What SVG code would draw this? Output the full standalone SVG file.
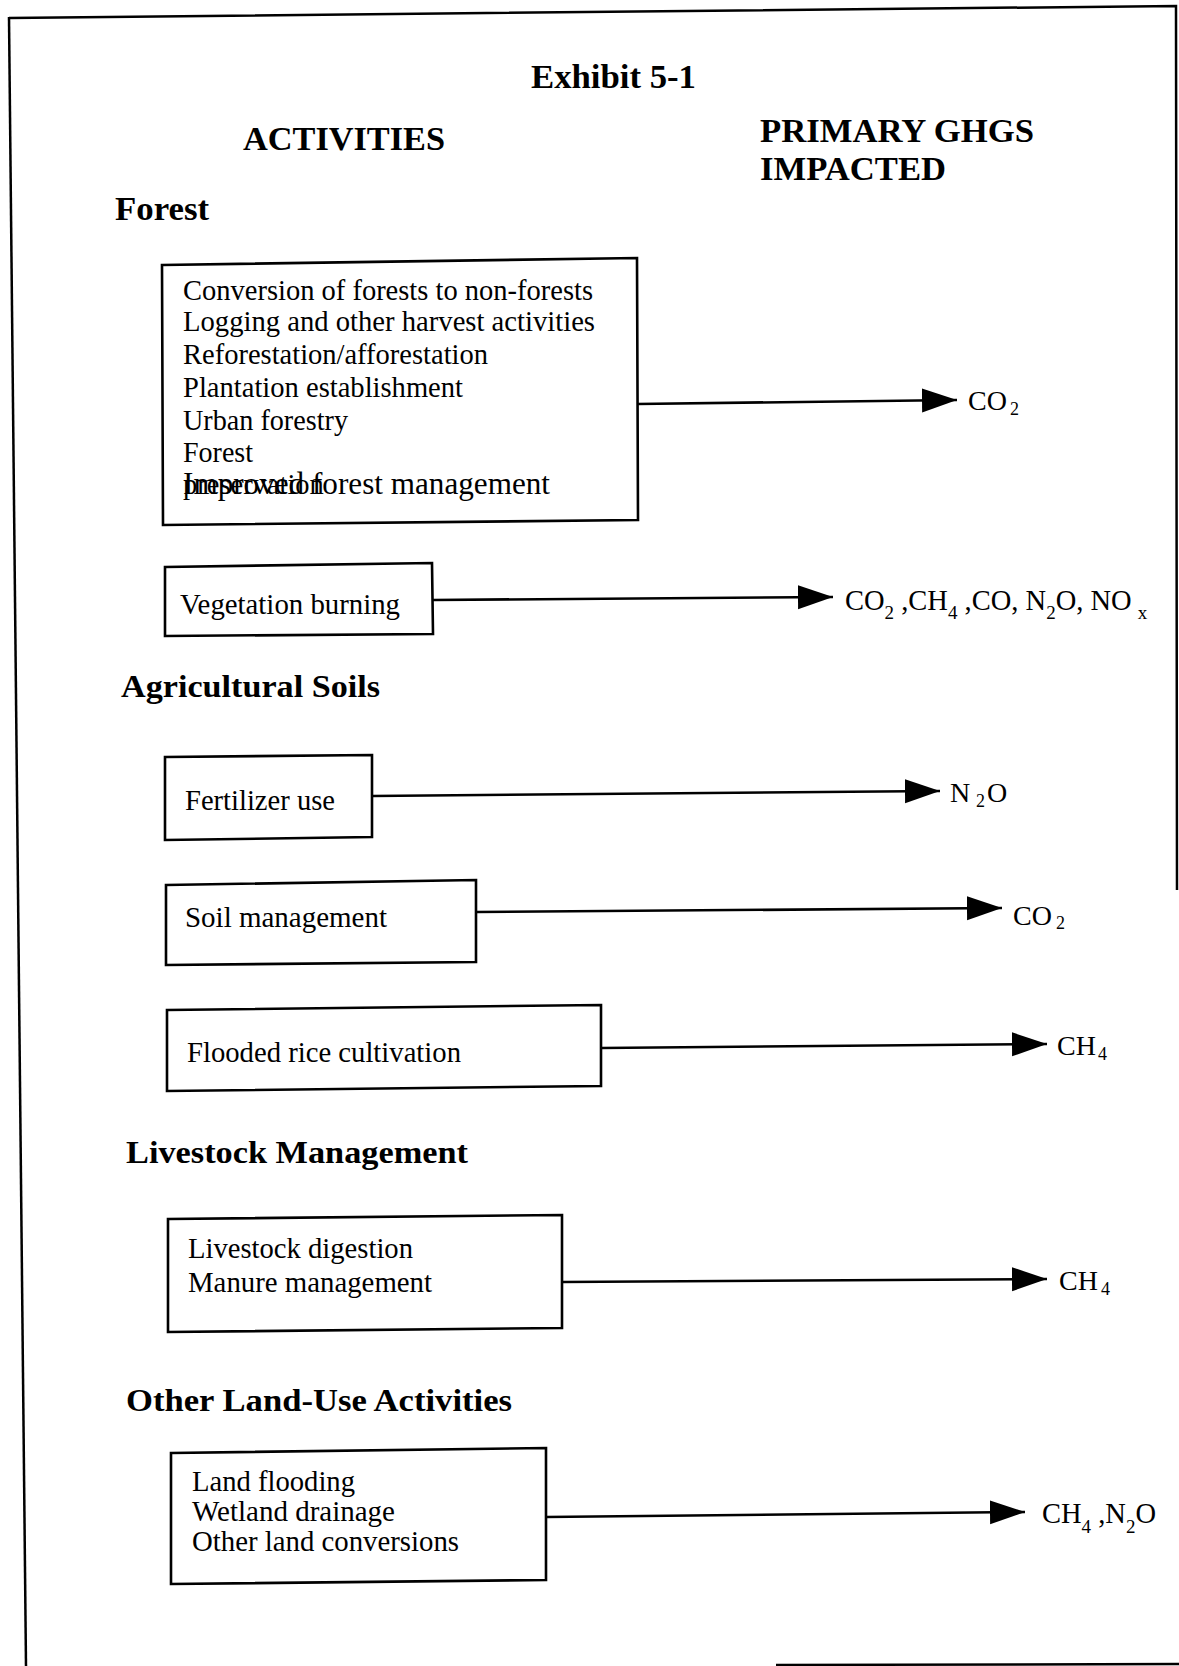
<svg xmlns="http://www.w3.org/2000/svg" width="1179" height="1666" viewBox="0 0 1179 1666">
<style>
.frame{fill:none;stroke:#000;stroke-width:2.5}
.box{fill:none;stroke:#000;stroke-width:2.6}
.conn{fill:none;stroke:#000;stroke-width:2.6}
.hd{font-family:"Liberation Serif","Times New Roman",serif;font-weight:bold;font-size:34px;fill:#000}
.sec{font-family:"Liberation Serif","Times New Roman",serif;font-weight:bold;font-size:31px;fill:#000}
.t{font-family:"Liberation Serif","Times New Roman",serif;font-size:28.5px;fill:#000}
.g{font-family:"Liberation Serif","Times New Roman",serif;font-size:28px;fill:#000}
.s{font-size:18px}
</style>
<defs>
<marker id="arr" markerUnits="userSpaceOnUse" markerWidth="36" markerHeight="26" refX="35" refY="12" orient="auto">
<path d="M0,0 L35,12 L0,24 z" fill="#000"/>
</marker>
</defs>
<rect width="1179" height="1666" fill="#fff"/>
<g id="frame">
<path class="frame" d="M9,18 L1176,6 L1177,890"/>
<path class="frame" d="M9,17 L26,1666"/>
<path class="frame" d="M776,1665 L1179,1664"/>
</g>
<g id="titles">
<text class="hd" x="531" y="88" textLength="165" lengthAdjust="spacingAndGlyphs">Exhibit 5-1</text>
<text class="hd" x="243" y="150" textLength="202" lengthAdjust="spacingAndGlyphs">ACTIVITIES</text>
<text class="hd" x="760" y="142" textLength="274" lengthAdjust="spacingAndGlyphs">PRIMARY GHGS</text>
<text class="hd" x="760" y="180" textLength="186" lengthAdjust="spacingAndGlyphs">IMPACTED</text>
<text class="hd" x="115" y="220" textLength="94" lengthAdjust="spacingAndGlyphs">Forest</text>
<text class="sec" x="121" y="697" textLength="259" lengthAdjust="spacingAndGlyphs">Agricultural Soils</text>
<text class="sec" x="126" y="1163" textLength="342" lengthAdjust="spacingAndGlyphs">Livestock Management</text>
<text class="sec" x="126" y="1411" textLength="386" lengthAdjust="spacingAndGlyphs">Other Land-Use Activities</text>
</g>
<g id="connectors">
<path class="conn" d="M637,404 L957,400" marker-end="url(#arr)"/>
<path class="conn" d="M433,600 L833,597" marker-end="url(#arr)"/>
<path class="conn" d="M372,796 L940,791" marker-end="url(#arr)"/>
<path class="conn" d="M476,912 L1002,908" marker-end="url(#arr)"/>
<path class="conn" d="M601,1048 L1047,1044" marker-end="url(#arr)"/>
<path class="conn" d="M562,1282 L1047,1279" marker-end="url(#arr)"/>
<path class="conn" d="M546,1517 L1025,1512" marker-end="url(#arr)"/>
</g>
<g id="node-forest">
<path class="box" d="M162,265 L637,258 L638,520 L163,525 Z"/>
<text class="t" x="183" y="300" textLength="410" lengthAdjust="spacingAndGlyphs">Conversion of forests to non-forests</text>
<text class="t" x="183" y="331" textLength="412" lengthAdjust="spacingAndGlyphs">Logging and other harvest activities</text>
<text class="t" x="183" y="364" textLength="305" lengthAdjust="spacingAndGlyphs">Reforestation/afforestation</text>
<text class="t" x="183" y="397" textLength="280" lengthAdjust="spacingAndGlyphs">Plantation establishment</text>
<text class="t" x="183" y="430" textLength="165" lengthAdjust="spacingAndGlyphs">Urban forestry</text>
<text class="t" x="183" y="462" textLength="70" lengthAdjust="spacingAndGlyphs">Forest</text>
<text class="t" x="183" y="494">preservation</text>
<text class="t" x="183" y="494" style="font-size:31px" textLength="367" lengthAdjust="spacingAndGlyphs">Improved forest management</text>
</g>
<g id="node-vegetation">
<path class="box" d="M165,567 L432,563 L433,634 L165,636 Z"/>
<text class="t" x="180" y="614" textLength="220" lengthAdjust="spacingAndGlyphs">Vegetation burning</text>
</g>
<g id="node-fertilizer">
<path class="box" d="M165,757 L372,755 L372,837 L165,840 Z"/>
<text class="t" x="185" y="810" textLength="150" lengthAdjust="spacingAndGlyphs">Fertilizer use</text>
</g>
<g id="node-soil">
<path class="box" d="M166,885 L476,880 L476,962 L166,965 Z"/>
<text class="t" x="185" y="927" textLength="202" lengthAdjust="spacingAndGlyphs">Soil management</text>
</g>
<g id="node-rice">
<path class="box" d="M167,1010 L601,1005 L601,1086 L167,1091 Z"/>
<text class="t" x="187" y="1062" textLength="274" lengthAdjust="spacingAndGlyphs">Flooded rice cultivation</text>
</g>
<g id="node-livestock">
<path class="box" d="M168,1219 L562,1215 L562,1328 L168,1332 Z"/>
<text class="t" x="188" y="1258" textLength="225" lengthAdjust="spacingAndGlyphs">Livestock digestion</text>
<text class="t" x="188" y="1292" textLength="244" lengthAdjust="spacingAndGlyphs">Manure management</text>
</g>
<g id="node-otherland">
<path class="box" d="M171,1453 L546,1448 L546,1580 L171,1584 Z"/>
<text class="t" x="192" y="1491" textLength="163" lengthAdjust="spacingAndGlyphs">Land flooding</text>
<text class="t" x="192" y="1521" textLength="203" lengthAdjust="spacingAndGlyphs">Wetland drainage</text>
<text class="t" x="192" y="1551" textLength="267" lengthAdjust="spacingAndGlyphs">Other land conversions</text>
</g>
<g id="ghg-labels">
<text class="g" y="410"><tspan x="968">CO</tspan><tspan class="s" x="1010" y="415">2</tspan></text>
<text class="g" style="font-size:28.5px" x="845" y="610">CO<tspan class="s" style="font-size:19px" dy="9">2</tspan><tspan dy="-9"> ,CH</tspan><tspan class="s" style="font-size:19px" dy="9">4</tspan><tspan dy="-9"> ,CO, N</tspan><tspan class="s" style="font-size:19px" dy="9">2</tspan><tspan dy="-9">O, NO</tspan><tspan class="s" style="font-size:19px" dx="6" dy="9">x</tspan></text>
<text class="g" y="802"><tspan x="950">N</tspan><tspan class="s" x="976" y="807">2</tspan><tspan x="987" y="802">O</tspan></text>
<text class="g" y="925"><tspan x="1013">CO</tspan><tspan class="s" x="1056" y="929">2</tspan></text>
<text class="g" y="1055"><tspan x="1057">CH</tspan><tspan class="s" x="1098" y="1060">4</tspan></text>
<text class="g" y="1290"><tspan x="1059">CH</tspan><tspan class="s" x="1101" y="1295">4</tspan></text>
<text class="g" style="font-size:28.5px" x="1042" y="1523">CH<tspan class="s" style="font-size:19px" dy="10">4</tspan><tspan dy="-10"> ,N</tspan><tspan class="s" style="font-size:19px" dy="10">2</tspan><tspan dy="-10">O</tspan></text>
</g>
</svg>
